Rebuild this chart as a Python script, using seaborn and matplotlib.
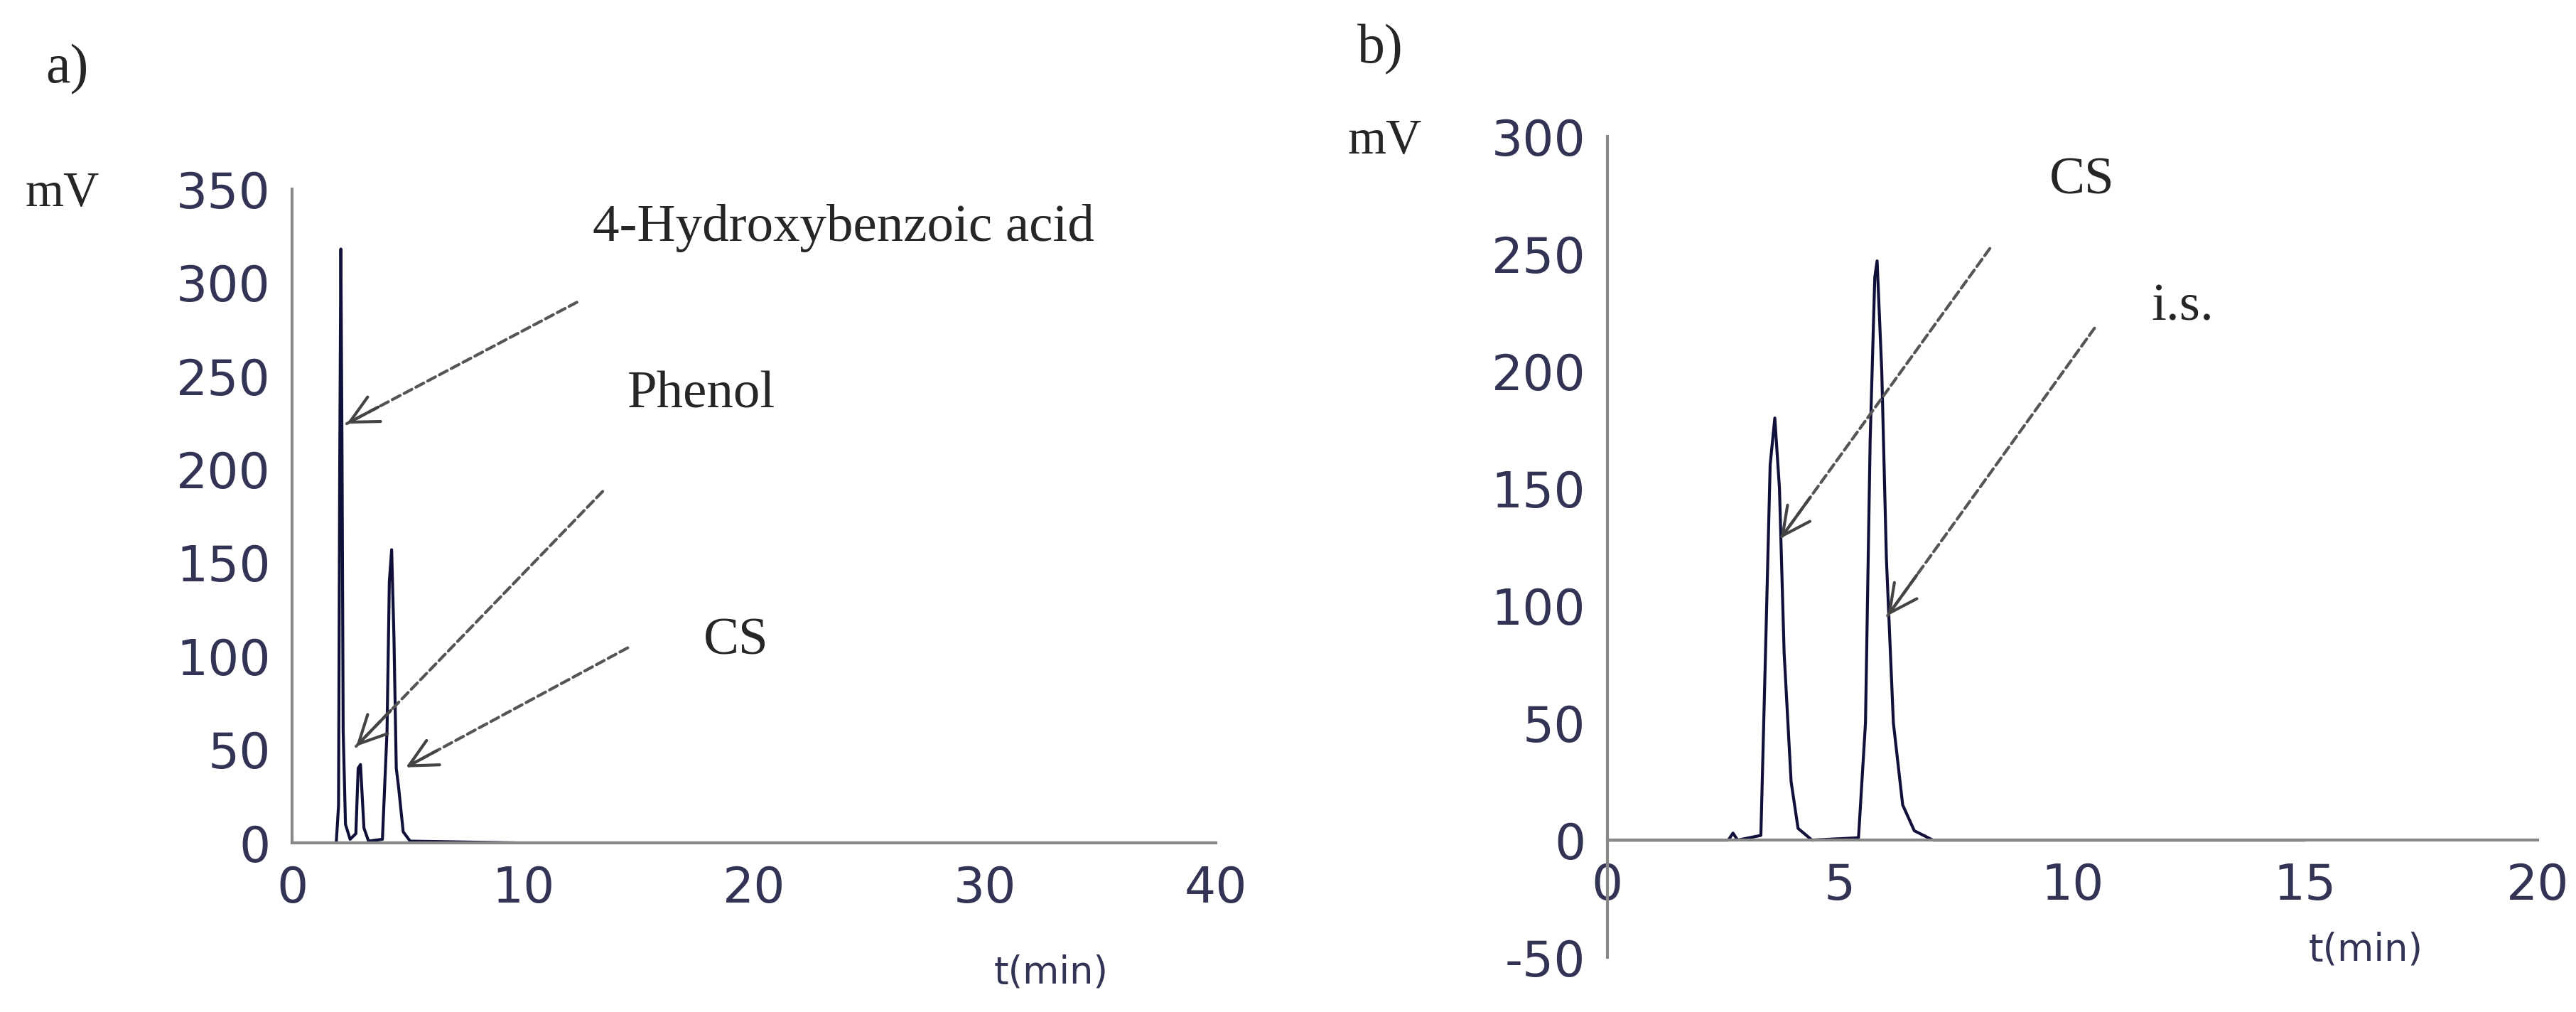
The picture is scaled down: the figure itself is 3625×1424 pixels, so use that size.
import matplotlib
matplotlib.use("Agg")
import matplotlib.pyplot as plt
import seaborn as sns
import pandas as pd

# chromatogram a) - time (min) vs signal (mV)
t_a = [0, 1.9, 2.0, 2.05, 2.1, 2.15, 2.2, 2.3, 2.5, 2.75, 2.85, 2.95, 3.1, 3.3, 3.9, 4.1, 4.2, 4.3, 4.4, 4.5, 4.6, 4.8, 5.1, 10, 20, 30]
s_a = [0, 0, 20, 200, 318, 210, 60, 10, 2, 5, 40, 42, 8, 1, 2, 60, 140, 157, 110, 40, 30, 6, 1, 0, 0, 0]

# chromatogram b)
t_b = [0, 2.6, 2.7, 2.8, 3.3, 3.4, 3.5, 3.6, 3.7, 3.8, 3.95, 4.1, 4.4, 5.4, 5.55, 5.65, 5.75, 5.8, 5.9, 6.0, 6.15, 6.35, 6.6, 7.0, 10, 15]
s_b = [0, 0, 3, 0, 2, 80, 160, 180, 150, 80, 25, 5, 0, 1, 50, 170, 240, 247, 200, 120, 50, 15, 4, 0, 0, 0]

sns.set_style("white")
plt.rcParams["axes.unicode_minus"] = False
fig = plt.figure(figsize=(36.25, 14.24), dpi=100)
ax_a = fig.add_axes([0.1135, 0.167, 0.3585, 0.646])
ax_b = fig.add_axes([0.624, 0.054, 0.361, 0.811])

serif = "Liberation Serif"
tick_color = "#333355"
dash = dict(arrowstyle="-", linestyle=(0, (3, 1.5)), color="#555555", lw=3)
head = dict(arrowstyle="->", color="#444444", lw=3, mutation_scale=70)

def style(ax):
    for s in ["top", "right"]:
        ax.spines[s].set_visible(False)
    for s in ["left", "bottom"]:
        ax.spines[s].set_color("#888888")
        ax.spines[s].set_linewidth(3)
    ax.tick_params(axis="both", direction="out", length=12, width=3, color="#888888",
                   labelsize=50, labelcolor=tick_color, pad=10)

def arrow(ax, tip, tail):
    ax.annotate("", xy=tip, xytext=tail, arrowprops=dash)
    mid = (tip[0] + 0.15 * (tail[0] - tip[0]), tip[1] + 0.15 * (tail[1] - tip[1]))
    ax.annotate("", xy=tip, xytext=mid, arrowprops=head)

df_a = pd.DataFrame({"t": t_a, "mV": s_a})
sns.lineplot(data=df_a, x="t", y="mV", ax=ax_a, color="#10103a", lw=3)
ax_a.set_xlim(0, 40)
ax_a.set_ylim(0, 350)
ax_a.set_xticks(range(0, 41, 10))
ax_a.set_yticks(range(0, 351, 50))
ax_a.set_xlabel("")
ax_a.set_ylabel("")
style(ax_a)
arrow(ax_a, (2.28, 224), (12.4, 290))
arrow(ax_a, (2.7, 51), (13.5, 189))
arrow(ax_a, (4.84, 40), (14.6, 105))
ax_a.text(13.0, 329, "4-Hydroxybenzoic acid", fontsize=54, family=serif, va="center")
ax_a.text(14.5, 240, "Phenol", fontsize=54, family=serif, va="center")
ax_a.text(17.8, 108, "CS", fontsize=54, family=serif, va="center")

df_b = pd.DataFrame({"t": t_b, "mV": s_b})
sns.lineplot(data=df_b, x="t", y="mV", ax=ax_b, color="#10103a", lw=3)
ax_b.set_xlim(0, 20)
ax_b.set_ylim(-50, 300)
ax_b.set_xticks(range(0, 21, 5))
ax_b.set_yticks(range(-50, 301, 50))
ax_b.set_xlabel("")
ax_b.set_ylabel("")
style(ax_b)
ax_b.spines["bottom"].set_position(("data", 0))
arrow(ax_b, (3.7, 128), (8.25, 253))
arrow(ax_b, (6.0, 95), (10.5, 219))
ax_b.text(9.5, 281, "CS", fontsize=54, family=serif, va="center")
ax_b.text(11.7, 227, "i.s.", fontsize=54, family=serif, va="center")

fig.text(28 / 1568, 1 - 42 / 616, "a)", fontsize=56, family=serif, va="center")
fig.text(826 / 1568, 1 - 30 / 616, "b)", fontsize=56, family=serif, va="center")
fig.text(38 / 1568, 1 - 118 / 616, "mV", fontsize=50, family=serif, va="center", ha="center")
fig.text(843 / 1568, 1 - 86 / 616, "mV", fontsize=50, family=serif, va="center", ha="center")
fig.text(640 / 1568, 1 - 592 / 616, "t(min)", fontsize=38, color=tick_color, va="center", ha="center")
fig.text(1440 / 1568, 1 - 578 / 616, "t(min)", fontsize=38, color=tick_color, va="center", ha="center")

fig.savefig("out.png", dpi=100, facecolor="white")
